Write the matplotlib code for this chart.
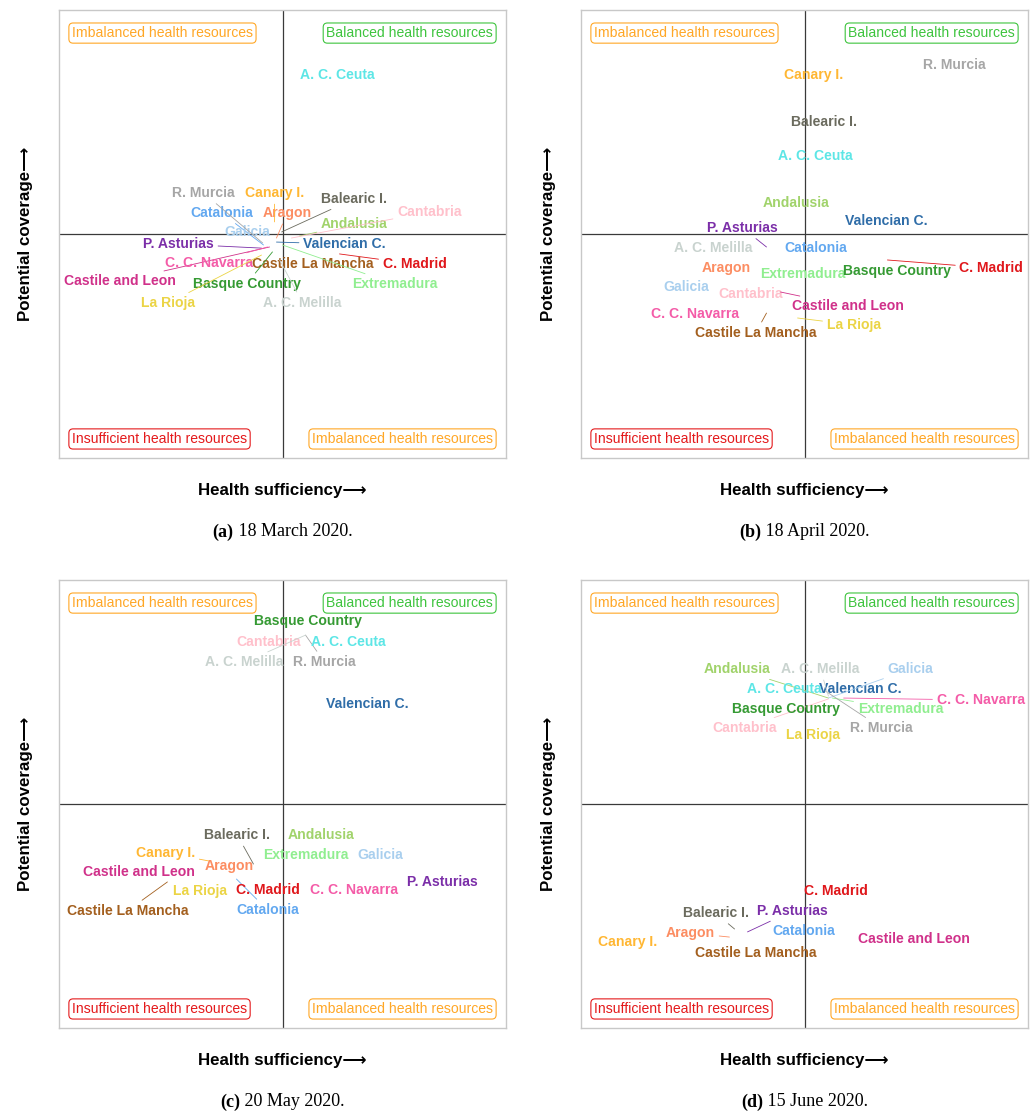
import matplotlib
matplotlib.use("Agg")
import matplotlib.pyplot as plt

# Regions of Spain and their label colours
regions = ["Andalusia", "Aragon", "P. Asturias", "Balearic I.", "Canary I.",
           "Cantabria", "Castile and Leon", "Castile La Mancha", "Catalonia",
           "Valencian C.", "Extremadura", "Galicia", "C. Madrid", "R. Murcia",
           "C. C. Navarra", "Basque Country", "La Rioja", "A. C. Ceuta",
           "A. C. Melilla"]
colors = ["#A1D36B", "#FC8D62", "#7B2EA8", "#6B6B5E", "#FFB733",
          "#FFC0CB", "#D0318A", "#A35F1E", "#62A8F0",
          "#2F6DA8", "#90EE90", "#A9CFEE", "#E0181C", "#A6A6A6",
          "#F45CA8", "#359A33", "#EBD445", "#5DE6E6",
          "#C9D3CF"]

# Scores per date (centred so that 0 splits the quadrants)
dates = ["18 March 2020.", "18 April 2020.", "20 May 2020.", "15 June 2020."]
tags = ["a", "b", "c", "d"]

suff_mar = [7.6, -2.7, -9.4, -0.4, -3.6, 4.0, -5.8, 13.4, -8.5, -2.7,
            0.0, -15.7, 25.5, -8.9, -6.7, -4.5, -9.4, 24.6, -1.3]
cov_mar = [-0.9, -1.8, -6.3, 0.9, 5.4, -1.8, -5.8, -13.4, -4.9, -3.6,
           -4.9, 0.9, -8.9, -4.0, -5.8, -8.0, -9.4, 71.0, -11.6]

suff_apr = [-3.6, -34.9, -17.0, 8.9, 4.0, -24.2, -10.7, -17.0, 4.9, 36.7,
            -0.9, -52.8, 37.1, 67.1, -48.8, 41.2, -3.1, 4.9, -40.7]
cov_apr = [13.8, -15.2, -5.8, 50.0, 71.0, -26.8, -25.9, -35.3, -6.3, 5.8,
           -17.9, -23.7, -11.6, 75.4, -35.7, -16.5, -37.5, 34.8, -6.3]

suff_may = [17.4, -23.7, 71.6, -13.0, -33.1, -6.3, -64.4, -51.5, -20.6, 38.0,
            10.3, 43.8, -6.7, 10.3, 31.8, 11.2, -37.1, 29.5, 10.3]
cov_may = [-13.8, -27.7, -34.8, -26.8, -25.4, 72.3, -30.4, -34.8, -33.5, 44.6,
           -22.8, -22.8, -38.4, 75.4, -38.4, 81.7, -38.8, 72.3, 75.4]

suff_jun = [10.7, -33.6, -25.5, -31.3, -79.2, 10.7, 48.8, -21.9, -0.4, 25.0,
            12.5, 10.7, 13.9, 9.4, 17.5, -8.5, 4.0, -9.0, 10.7]
cov_jun = [47.3, -59.4, -57.1, -55.8, -61.6, 46.9, -60.3, -66.5, -56.7, 51.3,
           47.3, 47.3, -38.8, 50.4, 47.3, 42.4, 30.8, 51.3, 48.2]

# Label displacements (repelled labels joined to their point by a segment)
nudge_mar = {"Andalusia": (24.6, 5.4), "Aragon": (4.9, 11.2),
             "P. Asturias": (-37.1, 1.8), "Balearic I.": (32.2, 14.7),
             "Canary I.": (0.0, 12.9), "Cantabria": (61.7, 11.6),
             "Castile and Leon": (-67.1, -15.2), "Catalonia": (-18.8, 14.3),
             "Valencian C.": (30.4, -0.9), "Extremadura": (50.1, -17.4),
             "C. Madrid": (33.6, -4.5), "R. Murcia": (-26.4, 22.3),
             "C. C. Navarra": (-26.0, -7.1), "Basque Country": (-11.6, -14.3),
             "La Rioja": (-41.6, -21.4), "A. C. Melilla": (10.3, -19.2)}
nudge_apr = {"P. Asturias": (-10.7, 8.5), "Castile and Leon": (30.0, -6.3),
             "Castile La Mancha": (-4.9, -8.9), "C. Madrid": (46.5, -3.6),
             "La Rioja": (25.1, -3.1)}
nudge_may = {"Balearic I.": (-7.2, 12.9), "Canary I.": (-19.2, 3.6),
             "Castile La Mancha": (-17.9, -12.9), "Catalonia": (13.9, -13.8),
             "R. Murcia": (8.5, -12.1), "A. C. Melilla": (-27.3, -12.1)}
nudge_jun = {"Andalusia": (-40.7, 12.9), "Aragon": (-17.4, 1.8),
             "P. Asturias": (20.1, 9.4), "Balearic I.": (-8.5, 7.1),
             "Cantabria": (-37.6, -12.9), "Extremadura": (30.4, -4.9),
             "Galicia": (36.7, 12.9), "R. Murcia": (25.1, -16.5),
             "C. C. Navarra": (61.3, -0.9), "A. C. Melilla": (-3.6, 12.1)}

panels = [(suff_mar, cov_mar, nudge_mar), (suff_apr, cov_apr, nudge_apr),
          (suff_may, cov_may, nudge_may), (suff_jun, cov_jun, nudge_jun)]

quadrants = [("Imbalanced health resources", "#FFA726", 0.029, 0.9485, "left"),
             ("Balanced health resources", "#3EC43E", 0.971, 0.9485, "right"),
             ("Insufficient health resources", "#E41A1C", 0.029, 0.0425, "left"),
             ("Imbalanced health resources", "#FFA726", 0.971, 0.0425, "right")]

W, H = 1033, 1113
fig = plt.figure(figsize=(W / 100, H / 100), dpi=100)
sans = ["Liberation Sans", "DejaVu Sans"]
serif = ["Liberation Serif", "DejaVu Serif"]

origins = [(59, 10), (581, 10), (59, 580), (581, 580)]
aw, ah = 447, 448
LABEL_SIZE = 10.1

caption_parts = []
for k, ((xs, ys, nudge), (x0, y0)) in enumerate(zip(panels, origins)):
    ax = fig.add_axes([x0 / W, 1 - (y0 + ah) / H, aw / W, ah / H])
    ax.set_xlim(-100, 100)
    ax.set_ylim(-100, 100)
    ax.set_xticks([])
    ax.set_yticks([])
    for sp in ax.spines.values():
        sp.set_color("#C8C8C8")
        sp.set_linewidth(1.0)
    ax.axhline(0, color="#3A3A3A", lw=0.9, zorder=1)
    ax.axvline(0, color="#3A3A3A", lw=0.9, zorder=1)

    for text, col, qx, qy, ha in quadrants:
        ax.text(qx, qy, text, transform=ax.transAxes, ha=ha, va="center",
                fontsize=10.1, color=col, family=sans,
                bbox=dict(boxstyle="round,pad=0.22,rounding_size=0.3",
                          fc="white", ec=col, lw=0.8), zorder=2)

    for name, col, px, py in zip(regions, colors, xs, ys):
        dx, dy = nudge.get(name, (0.0, 0.0))
        if dx == 0 and dy == 0:
            ax.text(px, py, name, ha="center", va="center",
                    fontsize=LABEL_SIZE, fontweight="bold", color=col,
                    family=sans, zorder=4)
        else:
            ax.annotate(name, xy=(px, py), xytext=(px + dx, py + dy),
                        textcoords="data", ha="center", va="center",
                        fontsize=LABEL_SIZE, fontweight="bold", color=col,
                        family=sans, zorder=4,
                        arrowprops=dict(arrowstyle="-", color=col, lw=0.6,
                                        shrinkA=1, shrinkB=0))

    cx = (x0 + aw / 2) / W
    fig.text((x0 - 33) / W, 1 - (y0 + ah / 2) / H, "Potential coverage\u27f6",
             rotation=90, ha="center", va="center", fontsize=12.2,
             fontweight="bold", family=sans)
    fig.text(cx, 1 - (y0 + ah + 32) / H, "Health sufficiency\u27f6",
             ha="center", va="center", fontsize=12.2, fontweight="bold",
             family=sans)
    cy = 1 - (y0 + ah + 74) / H
    t1 = fig.text(cx, cy, "(" + tags[k] + ")", ha="left", va="center",
                  fontsize=13, fontweight="bold", family=serif)
    t2 = fig.text(cx, cy, " " + dates[k], ha="left", va="center",
                  fontsize=13, family=serif)
    caption_parts.append((cx, t1, t2))

# centre each caption (bold tag + date) under its panel
fig.canvas.draw()
r = fig.canvas.get_renderer()
for cx, t1, t2 in caption_parts:
    w1 = t1.get_window_extent(r).width / W
    w2 = t2.get_window_extent(r).width / W
    left = cx - (w1 + w2) / 2
    t1.set_x(left)
    t2.set_x(left + w1)

fig.savefig("out.png", dpi=100, facecolor="white")
